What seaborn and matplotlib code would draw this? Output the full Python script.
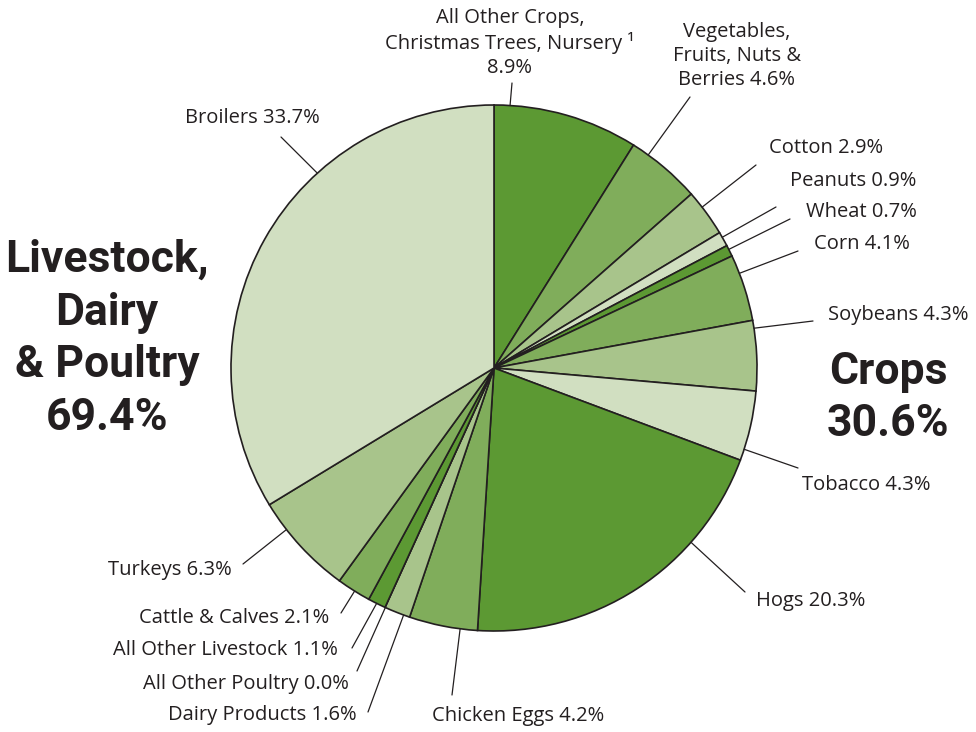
import numpy as np
import seaborn as sns
import matplotlib.pyplot as plt

# ---------------------------------------------------------
# data (clockwise from 12 o'clock)
# ---------------------------------------------------------
categories = ['All Other Crops, Christmas Trees, Nursery', 'Vegetables, Fruits, Nuts & Berries',
              'Cotton', 'Peanuts', 'Wheat', 'Corn', 'Soybeans', 'Tobacco',
              'Hogs', 'Chicken Eggs', 'Dairy Products', 'All Other Poultry',
              'All Other Livestock', 'Cattle & Calves', 'Turkeys', 'Broilers']
shares = [8.9, 4.6, 2.9, 0.9, 0.7, 4.1, 4.3, 4.3,
          20.3, 4.2, 1.6, 0.0, 1.1, 2.1, 6.3, 33.7]
label_texts = ['All Other Crops,\nChristmas Trees, Nursery ¹\n8.9%',
               'Vegetables,\nFruits, Nuts &\nBerries 4.6%',
               'Cotton 2.9%', 'Peanuts 0.9%', 'Wheat 0.7%', 'Corn 4.1%',
               'Soybeans 4.3%', 'Tobacco 4.3%', 'Hogs 20.3%', 'Chicken Eggs 4.2%',
               'Dairy Products 1.6%', 'All Other Poultry 0.0%',
               'All Other Livestock 1.1%', 'Cattle & Calves 2.1%',
               'Turkeys 6.3%', 'Broilers 33.7%']
group_labels = ['Crops\n30.6%', 'Livestock,\nDairy\n& Poultry\n69.4%']

greens = ['#5c9933', '#80ad5b', '#a8c48b', '#d1dfc1']

# ---------------------------------------------------------
# layout (pixels): leader start angle (deg clockwise from top),
# leader end point, text anchor, alignment
# ---------------------------------------------------------
cx, cy, R = 494, 368, 263
layout = [
    (3.5, (512, 83), (510, 43), 'center'),
    (35.9, (690, 97), (737, 56), 'center'),
    (52.3, (756, 165), (769, 148), 'left'),
    (60.2, (776, 207), (790, 181), 'left'),
    (63.2, (790, 219), (806, 212), 'left'),
    (68.9, (798, 251), (814, 244), 'left'),
    (81.3, (813, 321), (828, 315), 'left'),
    (108.0, (798, 468), (802, 485), 'left'),
    (131.5, (745, 592), (756, 601), 'left'),
    (187.4, (452, 695), (432, 716), 'left'),
    (200.1, (368, 712), (357, 715), 'right'),
    (204.4, (357, 671), (349, 684), 'right'),
    (206.5, (352, 648), (338, 650), 'right'),
    (212.0, (341, 613), (329, 618), 'right'),
    (232.1, (243, 564), (232, 570), 'right'),
    (317.8, (281, 137), (320, 118), 'right'),
]

sns.set_theme(style='white')
plt.rcParams['font.family'] = ['Open Sans', 'DejaVu Sans']

fig = plt.figure(figsize=(9.76, 7.32), dpi=100)
ax = fig.add_axes([0, 0, 1, 1])

colors = [greens[i % 4] for i in range(len(shares))]
ax.pie(shares, colors=colors, center=(cx, cy), radius=R,
       startangle=-90, counterclock=True,
       wedgeprops=dict(edgecolor='#231f20', linewidth=1.2))

ax.set_aspect('auto')
ax.set_xlim(0, 976)
ax.set_ylim(732, 0)
ax.set_axis_off()

for text, (ang, end, pos, ha) in zip(label_texts, layout):
    a = np.deg2rad(ang)
    start = (cx + R * np.sin(a), cy - R * np.cos(a))
    ax.plot([start[0], end[0]], [start[1], end[1]], color='#231f20', lw=0.9)
    ax.text(pos[0], pos[1], text, ha=ha, va='center', fontsize=14.5,
            color='#231f20', linespacing=1.24, multialignment='center')

bold = dict(family=['Roboto', 'DejaVu Sans'], fontweight='bold',
            fontsize=32, color='#231f20', ha='center', va='center', linespacing=1.32)
ax.text(888, 398, group_labels[0], **bold)
ax.text(107, 339, group_labels[1], **bold)

fig.savefig('out.png', dpi=100)
